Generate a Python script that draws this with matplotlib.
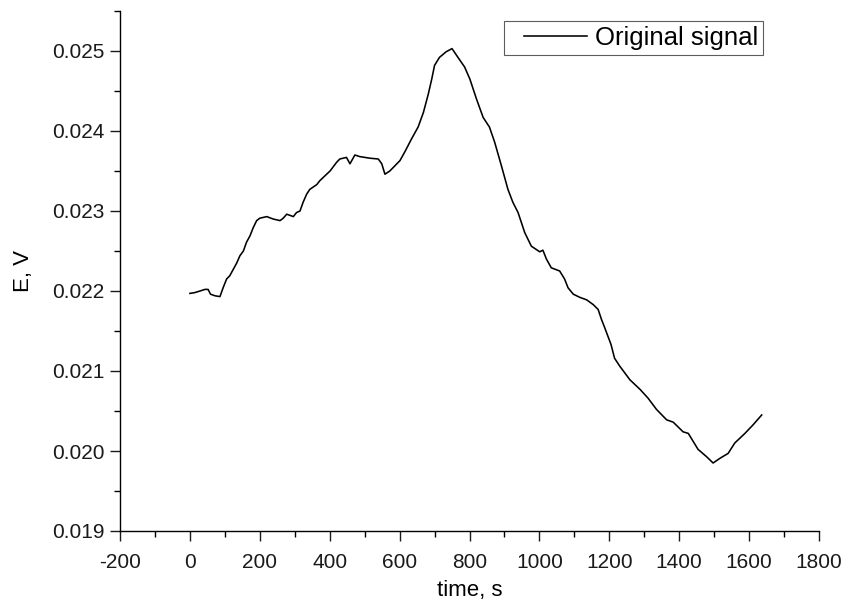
import matplotlib
matplotlib.use('Agg')
import matplotlib.pyplot as plt
from matplotlib.ticker import MultipleLocator, FormatStrFormatter
from matplotlib.legend_handler import HandlerLine2D

plt.rcParams['font.family'] = ['Liberation Sans', 'DejaVu Sans']
plt.rcParams['axes.unicode_minus'] = False

# signal
time_s = [0, 14, 29, 43, 52, 59, 72, 86, 95, 105, 114, 124, 134, 143, 153, 162,
          172, 181, 191, 200, 220, 238, 258, 267, 277, 296, 305, 315, 324, 334,
          343, 363, 372, 401, 420, 429, 448, 458, 472, 486, 515, 539, 549, 558,
          572, 601, 615, 634, 653, 668, 682, 692, 700, 714, 733, 750, 767, 786,
          801, 820, 839, 857, 872, 891, 910, 924, 939, 958, 977, 1001, 1010,
          1020, 1034, 1058, 1072, 1082, 1097, 1116, 1135, 1154, 1168, 1178,
          1187, 1205, 1215, 1230, 1259, 1288, 1311, 1335, 1364, 1383, 1411,
          1426, 1454, 1478, 1497, 1517, 1540, 1559, 1588, 1612, 1636]
signal_v = [0.02197, 0.02198, 0.02200, 0.02202, 0.02202, 0.02196, 0.02194,
            0.02193, 0.02204, 0.02215, 0.02219, 0.02227, 0.02235, 0.02244,
            0.02250, 0.02261, 0.02269, 0.02279, 0.02288, 0.02291, 0.02293,
            0.02290, 0.02288, 0.02291, 0.02296, 0.02293, 0.02298, 0.02300,
            0.02311, 0.02321, 0.02327, 0.02333, 0.02338, 0.02350, 0.02361,
            0.02365, 0.02367, 0.02359, 0.02370, 0.02368, 0.02366, 0.02365,
            0.02359, 0.02346, 0.02350, 0.02363, 0.02374, 0.02390, 0.02405,
            0.02423, 0.02446, 0.02465, 0.02482, 0.02492, 0.02499, 0.02503,
            0.02492, 0.02480, 0.02465, 0.02440, 0.02417, 0.02405, 0.02386,
            0.02357, 0.02327, 0.02311, 0.02298, 0.02273, 0.02256, 0.02249,
            0.02251, 0.02240, 0.02229, 0.02225, 0.02215, 0.02204, 0.02196,
            0.02192, 0.02189, 0.02183, 0.02177, 0.02164, 0.02154, 0.02133,
            0.02116, 0.02106, 0.02089, 0.02077, 0.02066, 0.02052, 0.02039,
            0.02036, 0.02024, 0.02022, 0.02002, 0.01993, 0.01985, 0.01991,
            0.01997, 0.02010, 0.02022, 0.02033, 0.02045]


class PaddedLine(HandlerLine2D):
    # leaves a gap on the left of the legend line only
    def adjust_drawing_area(self, legend, orig_handle, xdescent, ydescent,
                            width, height, fontsize):
        xdescent, ydescent, width, height = super().adjust_drawing_area(
            legend, orig_handle, xdescent, ydescent, width, height, fontsize)
        shift = 0.545 * fontsize
        return xdescent - shift, ydescent, width - shift, height


fig = plt.figure(figsize=(8.56, 6.05), dpi=100)
ax = fig.add_axes([120/856, 1-531/605, 699/856, 520/605])

line, = ax.plot(time_s, signal_v, color='black', lw=1.15, label='Original signal')

ax.set_xlim(-200, 1800)
ax.set_ylim(0.019, 0.0255)
ax.xaxis.set_major_locator(MultipleLocator(200))
ax.xaxis.set_minor_locator(MultipleLocator(100))
ax.yaxis.set_major_locator(MultipleLocator(0.001))
ax.yaxis.set_minor_locator(MultipleLocator(0.0005))
ax.yaxis.set_major_formatter(FormatStrFormatter('%.3f'))

for s in ('top', 'right'):
    ax.spines[s].set_visible(False)
for s in ('left', 'bottom'):
    ax.spines[s].set_linewidth(1.0)
ax.tick_params(which='major', direction='out', length=7, width=1.0,
               labelsize=15, pad=4, colors='#1a1a1a')
ax.tick_params(which='minor', direction='out', length=4, width=1.0)
ax.tick_params(axis='x', which='major', pad=8.5)

ax.set_xlabel('time, s', fontsize=16, labelpad=6)
ax.set_ylabel('E, V', fontsize=16, labelpad=13)

leg = ax.legend(loc='upper right', bbox_to_anchor=(763/856, 1-21/605),
                bbox_transform=fig.transFigure, borderaxespad=0,
                fancybox=False, frameon=True, fontsize=18.5, handlelength=3.03,
                handletextpad=0.28, borderpad=0.2,
                handler_map={line: PaddedLine()})
leg.get_frame().set_edgecolor('#333333')
leg.get_frame().set_linewidth(0.8)

fig.savefig('out.png', dpi=100)
